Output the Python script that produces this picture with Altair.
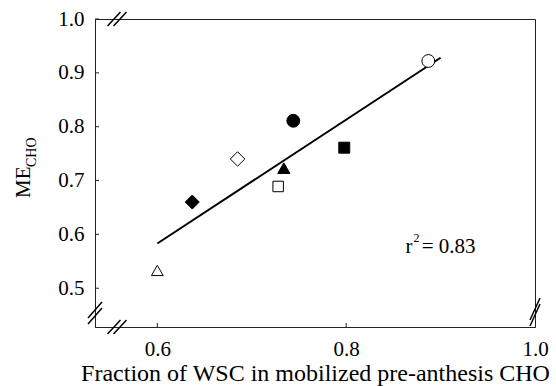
import altair as alt
import pandas as pd

# ---- data ----
markers = ["open triangle", "filled diamond", "open diamond", "filled triangle",
           "open square", "filled circle", "filled square", "open circle"]
wsc_fraction = [0.600, 0.637, 0.685, 0.734, 0.728, 0.744, 0.798, 0.887]
me_cho = [0.533, 0.660, 0.740, 0.723, 0.689, 0.811, 0.761, 0.922]

fit_x = [0.600, 0.900]
fit_y = [0.583, 0.928]

x_ticks = [0.6, 0.8, 1.0]
y_ticks = [0.5, 0.6, 0.7, 0.8, 0.9, 1.0]
r2_label = "0.83"

X_DOM = [0.534, 1.0]
Y_DOM = [0.428, 1.0]
W, H = 440, 308
PX_X = (X_DOM[1] - X_DOM[0]) / W   # data units per pixel
PX_Y = (Y_DOM[1] - Y_DOM[0]) / H

FONT = "Liberation Serif"

shape_range = ["triangle-up", "diamond", "diamond", "triangle-up",
               "square", "circle", "square", "circle"]
fill_range = ["white", "black", "white", "black", "white", "black", "black", "white"]
size_range = [140, 196, 210, 150, 110, 165, 120, 165]

pts = pd.DataFrame({"marker": markers, "x": wsc_fraction, "y": me_cho})
fit = pd.DataFrame({"x": fit_x, "y": fit_y})

xs = alt.Scale(domain=X_DOM, nice=False, zero=False)
ys = alt.Scale(domain=Y_DOM, nice=False, zero=False)

x_axis = alt.Axis(values=x_ticks, format=".1f", title="Fraction of WSC in mobilized pre-anthesis CHO",
                  labelPadding=11, titlePadding=2, labelFont=FONT, titleFont=FONT)
y_axis = alt.Axis(values=y_ticks, format=".1f", title=None, labelPadding=11, labelFont=FONT)

points = alt.Chart(pts).mark_point(filled=True, stroke="black", strokeWidth=1, opacity=1).encode(
    x=alt.X("x:Q", scale=xs, axis=x_axis),
    y=alt.Y("y:Q", scale=ys, axis=y_axis),
    shape=alt.Shape("marker:N", scale=alt.Scale(domain=markers, range=shape_range), legend=None),
    fill=alt.Fill("marker:N", scale=alt.Scale(domain=markers, range=fill_range), legend=None),
    size=alt.Size("marker:N", scale=alt.Scale(type="ordinal", domain=markers, range=size_range), legend=None),
)

line = alt.Chart(fit).mark_line(color="black", strokeWidth=2).encode(
    x=alt.X("x:Q", scale=xs, axis=x_axis), y=alt.Y("y:Q", scale=ys, axis=y_axis))

# inward tick marks
ytk = pd.DataFrame({"y": y_ticks})
ytick_layer = alt.Chart(ytk).mark_rule(color="#222", strokeWidth=1).encode(
    y=alt.Y("y:Q", scale=ys, axis=y_axis), x=alt.value(0), x2=alt.value(4))
xtk = pd.DataFrame({"x": x_ticks[:-1]})
xtick_layer = alt.Chart(xtk).mark_rule(color="#222", strokeWidth=1).encode(
    x=alt.X("x:Q", scale=xs, axis=x_axis), y=alt.value(H), y2=alt.value(H - 4))

# axis break marks "//"
breaks = []
def add_break(cx, cy, dxp, dyp, offx, offy):
    for k in (-0.5, 0.5):
        ox, oy = cx + k * offx * PX_X, cy + k * offy * PX_Y
        breaks.append({"x": ox - dxp * PX_X, "y": oy - dyp * PX_Y,
                       "x2": ox + dxp * PX_X, "y2": oy + dyp * PX_Y})

add_break(X_DOM[0], Y_DOM[0] + 14 * PX_Y, 7, 8, 0, -6)     # left axis
add_break(1.0, Y_DOM[0] + 15 * PX_Y, 5, 11, 0, -6)          # right border
add_break(X_DOM[0] + 22 * PX_X, Y_DOM[0], 6.5, 7, 6, 0)     # bottom axis
add_break(X_DOM[0] + 22 * PX_X, 1.0, 6.5, 7, 6, 0)          # top border
brk = pd.DataFrame(breaks)
break_layer = alt.Chart(brk).mark_rule(color="black", strokeWidth=1.5).encode(
    x=alt.X("x:Q", scale=xs, axis=x_axis), y=alt.Y("y:Q", scale=ys, axis=y_axis),
    x2="x2:Q", y2="y2:Q")

# y-axis title ME with subscript CHO
me = alt.Chart(pd.DataFrame({"t": ["ME"]})).mark_text(
    font=FONT, fontSize=21, angle=270, align="left", baseline="alphabetic", color="black"
).encode(text="t:N", x=alt.value(-65), y=alt.value(179))
cho = alt.Chart(pd.DataFrame({"t": ["CHO"]})).mark_text(
    font=FONT, fontSize=14, angle=270, align="left", baseline="alphabetic", color="black"
).encode(text="t:N", x=alt.value(-59), y=alt.value(148))

# r^2 annotation
r_t = alt.Chart(pd.DataFrame({"t": ["r"], "x": [0.8628], "y": [0.565]})).mark_text(
    font=FONT, fontSize=21, align="left", baseline="alphabetic", color="black"
).encode(text="t:N", x=alt.X("x:Q", scale=xs, axis=x_axis), y=alt.Y("y:Q", scale=ys, axis=y_axis))
sup_t = alt.Chart(pd.DataFrame({"t": ["2"], "x": [0.8713], "y": [0.585]})).mark_text(
    font=FONT, fontSize=12, align="left", baseline="alphabetic", color="black"
).encode(text="t:N", x=alt.X("x:Q", scale=xs, axis=x_axis), y=alt.Y("y:Q", scale=ys, axis=y_axis))
eq_t = alt.Chart(pd.DataFrame({"t": ["= " + r2_label], "x": [0.8800], "y": [0.565]})).mark_text(
    font=FONT, fontSize=21, align="left", baseline="alphabetic", color="black"
).encode(text="t:N", x=alt.X("x:Q", scale=xs, axis=x_axis), y=alt.Y("y:Q", scale=ys, axis=y_axis))

chart = alt.layer(line, points, ytick_layer, xtick_layer, break_layer, me, cho, r_t, sup_t, eq_t).properties(
    width=W, height=H,
    autosize=alt.AutoSizeParams(type="none"),
    padding={"left": 95, "top": 19, "right": 21, "bottom": 59},
    background="white",
).configure(font=FONT).configure_view(stroke="#222", strokeWidth=1).configure_axis(
    grid=False, ticks=False, tickSize=0, labelFlush=False,
    labelFont=FONT, titleFont=FONT, labelFontSize=21, titleFontSize=24,
    titleFontWeight="normal", labelColor="black", titleColor="black", domainColor="#222",
)

chart.save("out.html", embed_options={"renderer": "svg", "actions": False})
